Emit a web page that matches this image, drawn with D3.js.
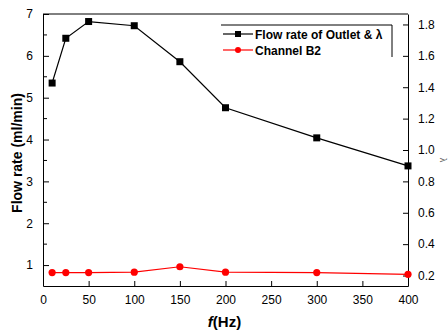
<!DOCTYPE html>
<html>
<head>
<meta charset="utf-8">
<script src="https://cdn.jsdelivr.net/npm/d3@7"></script>
<style>
  body { margin: 0; background: #fff; }
  svg { font-family: Arial, "Liberation Sans", sans-serif; }
</style>
</head>
<body>
<div id="viz"></div>
<script>
// data
const freqs = [10, 25, 50, 100, 150, 200, 300, 400];
const outletFlow = [5.35, 6.42, 6.82, 6.72, 5.86, 4.76, 4.04, 3.37];
const channelB2 = [0.82, 0.82, 0.82, 0.83, 0.96, 0.83, 0.82, 0.78];
const xTicks = [0, 50, 100, 150, 200, 250, 300, 350, 400];
const leftTicks = [1, 2, 3, 4, 5, 6, 7];
const rightTicks = [0.2, 0.4, 0.6, 0.8, 1.0, 1.2, 1.4, 1.6, 1.8];
const legendLabels = ['Flow rate of Outlet & \u03bb', 'Channel B2'];

const width = 448, height = 332;
const margin = {left: 43, right: 40, top: 14, bottom: 46};
const w = width - margin.left - margin.right;
const h = height - margin.top - margin.bottom;

const svg = d3.select('#viz').append('svg')
  .attr('width', width).attr('height', height);
const g = svg.append('g').attr('transform', `translate(${margin.left},${margin.top})`);

const x = d3.scaleLinear().domain([0, 400]).range([0, w]);
const y = d3.scaleLinear().domain([0.5, 7]).range([h, 0]);
const yR = d3.scaleLinear().domain([0.5 / 3.75, 7 / 3.75]).range([h, 0]);

// axes, ticks pointing inward
const styleAxis = sel => {
  sel.select('.domain').attr('stroke', '#000').attr('stroke-width', 1);
  sel.selectAll('.tick line').attr('stroke', '#000');
  sel.selectAll('.tick text').attr('fill', '#000').style('font-size', '12px');
};

g.append('g').attr('transform', `translate(0,${h})`)
  .call(d3.axisBottom(x).tickValues(xTicks).tickSize(-5).tickPadding(9).tickSizeOuter(0))
  .call(styleAxis);

g.append('g')
  .call(d3.axisLeft(y).tickValues(leftTicks).tickFormat(d3.format('d')).tickSize(-6).tickPadding(10).tickSizeOuter(0))
  .call(styleAxis);

// minor ticks on the left axis
g.append('g').selectAll('line')
  .data(d3.range(1.5, 7, 1))
  .join('line')
  .attr('x1', 0).attr('x2', 4)
  .attr('y1', d => y(d)).attr('y2', d => y(d))
  .attr('stroke', '#000');

g.append('g').attr('transform', `translate(${w},0)`)
  .call(d3.axisRight(yR).tickValues(rightTicks).tickFormat(d3.format('.1f')).tickSize(-5).tickPadding(10).tickSizeOuter(0))
  .call(styleAxis);

// top frame
g.append('line').attr('x1', 0).attr('x2', w).attr('y1', 0).attr('y2', 0).attr('stroke', '#000');

// axis titles
svg.append('text')
  .attr('transform', `translate(22,${margin.top + h / 2 + 3}) rotate(-90)`)
  .attr('text-anchor', 'middle')
  .style('font-size', '14px').style('font-weight', 'bold')
  .text('Flow rate (ml/min)');

const xl = svg.append('text')
  .attr('x', margin.left + w / 2 - 1).attr('y', 327)
  .attr('text-anchor', 'middle')
  .style('font-size', '15px').style('font-weight', 'bold');
xl.append('tspan').style('font-style', 'italic').text('f');
xl.append('tspan').text('(Hz)');

svg.append('text')
  .attr('transform', `translate(440,${margin.top + h / 2 + 10}) rotate(90)`)
  .attr('text-anchor', 'middle')
  .attr('fill', '#666')
  .style('font-size', '9px')
  .text('\u03bb');

// series
const line = d3.line().x((d, i) => x(freqs[i])).y(d => y(d));

g.append('path').datum(channelB2)
  .attr('d', line).attr('fill', 'none').attr('stroke', '#ff0000').attr('stroke-width', 1.2);
g.append('g').selectAll('circle').data(channelB2).join('circle')
  .attr('cx', (d, i) => x(freqs[i])).attr('cy', d => y(d)).attr('r', 3.6)
  .attr('fill', '#ff0000');

g.append('path').datum(outletFlow)
  .attr('d', line).attr('fill', 'none').attr('stroke', '#000').attr('stroke-width', 1.2);
g.append('g').selectAll('rect').data(outletFlow).join('rect')
  .attr('x', (d, i) => x(freqs[i]) - 3.5).attr('y', d => y(d) - 3.5)
  .attr('width', 7).attr('height', 7).attr('fill', '#000');

// legend
const lg = svg.append('g').attr('transform', 'translate(221,25)');
lg.append('line').attr('x1', 0).attr('x2', 171).attr('y1', 0).attr('y2', 0).attr('stroke', '#000');
lg.append('line').attr('x1', 171).attr('x2', 171).attr('y1', 0).attr('y2', 32).attr('stroke', '#000');
const colors = ['#000', '#ff0000'];
legendLabels.forEach((lab, i) => {
  const row = lg.append('g').attr('transform', `translate(0,${9 + i * 16})`);
  row.append('line').attr('x1', 2).attr('x2', 32).attr('y1', 0).attr('y2', 0)
    .attr('stroke', colors[i]).attr('stroke-width', 1.2);
  if (i === 0) {
    row.append('rect').attr('x', 14).attr('y', -3).attr('width', 6).attr('height', 6).attr('fill', colors[i]);
  } else {
    row.append('circle').attr('cx', 17).attr('cy', 0).attr('r', 3).attr('fill', colors[i]);
  }
  row.append('text').attr('x', 34).attr('y', 4.5)
    .style('font-size', '12px').style('font-weight', 'bold')
    .text(lab);
});
</script>
</body>
</html>
